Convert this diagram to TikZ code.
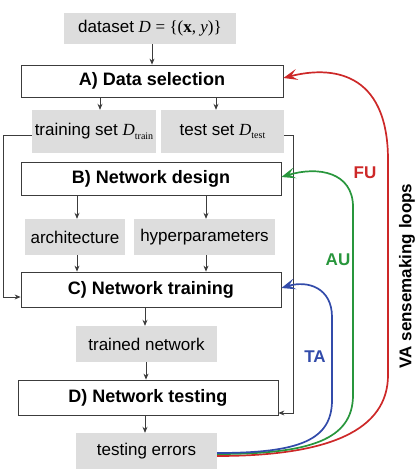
\documentclass[tikz,border=0pt]{standalone}
\usepackage{fontspec}
\setmainfont{Liberation Sans}
\newfontfamily\tnr{Liberation Serif}
\usetikzlibrary{arrows.meta}
\definecolor{boxgray}{RGB}{221,221,221}
\definecolor{linegray}{RGB}{60,60,60}
\definecolor{fured}{RGB}{205,40,40}
\definecolor{augreen}{RGB}{40,150,60}
\definecolor{tablue}{RGB}{50,75,170}
\tikzset{
  graybox/.style={fill=boxgray, draw=none, inner sep=0pt, align=center, font=\fontsize{17}{19}\selectfont},
  stagebox/.style={draw=linegray, line width=0.8pt, fill=white, inner sep=0pt, font=\bfseries\fontsize{18}{20}\selectfont},
  arr/.style={draw=linegray, line width=0.8pt, -{Stealth[length=6pt,width=5pt]}},
  loop/.style={line width=1.7pt, -{Stealth[length=14pt,width=11pt,inset=6pt]}},
  looplabel/.style={font=\bfseries\fontsize{17}{19}\selectfont}
}
\begin{document}
\begin{tikzpicture}[x=1pt,y=-1pt]
\useasboundingbox (0,0) rectangle (419,470);
% nodes
\node[graybox, minimum width=172pt, minimum height=31pt] (ds) at (150,28.5)
  {dataset {\tnr\itshape D} {\tnr = \{(\textbf{x}, \textit{y})\}}};
\node[stagebox, minimum width=262pt, minimum height=32pt] (A) at (152,81) {A) Data selection};
\node[graybox, minimum width=124pt, minimum height=43pt] (train) at (94,131.5)
  {training set {\tnr\itshape D}\raisebox{-0.35ex}{\tnr\fontsize{10}{10}\selectfont train}};
\node[graybox, minimum width=123pt, minimum height=43pt] (test) at (222.5,131.5)
  {test set {\tnr\itshape D}\raisebox{-0.35ex}{\tnr\fontsize{10}{10}\selectfont test}};
\node[stagebox, minimum width=260pt, minimum height=33pt] (B) at (151,178.5) {B) Network design};
\node[graybox, minimum width=100pt, minimum height=36pt] (arch) at (75,237) {architecture};
\node[graybox, minimum width=141pt, minimum height=36pt] (hyper) at (204.5,237) {hyperparameters};
\node[stagebox, minimum width=260pt, minimum height=35pt] (C) at (151,289.5) {C) Network training};
\node[graybox, minimum width=141pt, minimum height=36pt] (trained) at (146.5,344) {trained network};
\node[stagebox, minimum width=260pt, minimum height=35pt] (D) at (148,397.5) {D) Network testing};
\node[graybox, minimum width=141pt, minimum height=36pt] (err) at (146.5,451) {testing errors};
% coordinates
\coordinate (trL) at (3,135);
\coordinate (teR) at (293,135);
% black arrows
\draw[arr] (ds.south -| 152,0) -- (A.north -| 152,0);
\draw[arr] (A.south -| 100,0) -- (train.north -| 100,0);
\draw[arr] (A.south -| 216,0) -- (test.north -| 216,0);
\draw[arr] (B.south -| 77,0) -- (arch.north -| 77,0);
\draw[arr] (B.south -| 206,0) -- (hyper.north -| 206,0);
\draw[arr] (arch.south -| 77,0) -- (C.north -| 77,0);
\draw[arr] (hyper.south -| 206,0) -- (C.north -| 206,0);
\draw[arr] (C.south -| 145,0) -- (trained.north -| 145,0);
\draw[arr] (trained.south -| 146,0) -- (D.north -| 146,0);
\draw[arr] (D.south -| 145,0) -- (err.north -| 145,0);
\draw[arr] (train.west |- trL) -- (trL) -- (trL |- 0,297) -- (C.west |- 0,297);
\draw[arr] (test.east |- teR) -- (teR) -- (teR |- 0,413) -- (D.east |- 0,413);
% loops
\draw[loop, fured] (err.east |- 0,456) .. controls (330,456) and (388,430) .. (388,375)
  -- (388,160) .. controls (388,70) and (330,66) .. (A.east |- 0,78);
\draw[loop, augreen] (err.east |- 0,454) .. controls (310,454) and (353,440) .. (353,395)
  -- (353,207) .. controls (353,172) and (318,166) .. (B.east |- 0,177);
\draw[loop, tablue] (err.east |- 0,453) .. controls (300,453) and (332,440) .. (332,400)
  -- (332,317) .. controls (332,288) and (308,280) .. (C.east |- 0,288);
% labels
\node[looplabel, text=fured] (fu) at (365,173) {FU};
\node[looplabel, text=augreen] (au) at (338,260) {AU};
\node[looplabel, text=tablue] (ta) at (315,357) {TA};
\node[font=\bfseries\fontsize{17}{19}\selectfont, rotate=90] (va) at (407,276) {VA sensemaking loops};
\end{tikzpicture}
\end{document}
